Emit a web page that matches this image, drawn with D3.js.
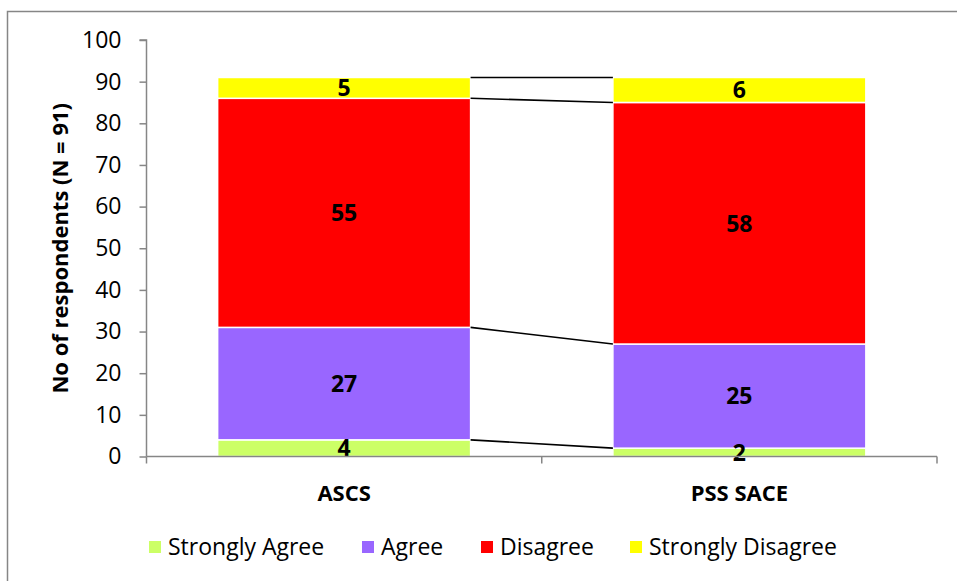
<!DOCTYPE html>
<html>
<head>
<meta charset="utf-8">
<script src="https://cdn.jsdelivr.net/npm/d3@7"></script>
<style>
html,body{margin:0;padding:0;background:#fff;}
svg{display:block;font-family:"Open Sans",sans-serif;}
</style>
</head>
<body>
<svg id="chart" width="957" height="581"></svg>
<script>
const categories = ["ASCS", "PSS SACE"];
const seriesNames = ["Strongly Agree", "Agree", "Disagree", "Strongly Disagree"];
const stronglyAgree = [4, 2];
const agree = [27, 25];
const disagree = [55, 58];
const stronglyDisagree = [5, 6];
const seriesColors = ["#CCFF66", "#9966FF", "#FF0000", "#FFFF00"];
const yTicks = [0, 10, 20, 30, 40, 50, 60, 70, 80, 90, 100];
const yTitle = "No of respondents (N = 91)";

(function () {
const svg = d3.select("#chart");
const pLeft = 146.5, pRight = 937, pTop = 40, pBottom = 456.5;

// outer frame (only left/top visible)
svg.append("rect").attr("x", 7.5).attr("y", 11.5).attr("width", 1100).attr("height", 700)
  .attr("fill", "none").attr("stroke", "#868686").attr("stroke-width", 1.5);

const x = d3.scaleBand().domain(categories).range([pLeft, pRight]).paddingInner(0).paddingOuter(0);
const y = d3.scaleLinear().domain([0, 100]).range([pBottom, pTop]);
const barW = x.bandwidth() * 0.64;

const rows = categories.map((c, i) => ({
  cat: c, "Strongly Agree": stronglyAgree[i], "Agree": agree[i],
  "Disagree": disagree[i], "Strongly Disagree": stronglyDisagree[i]
}));
const stack = d3.stack().keys(seriesNames)(rows);

// bars
stack.forEach((layer, li) => {
  const g = svg.append("g");
  g.selectAll("rect").data(layer).enter().append("rect")
    .attr("x", d => x(d.data.cat) + (x.bandwidth() - barW) / 2)
    .attr("width", barW)
    .attr("y", d => y(d[1]))
    .attr("height", d => y(d[0]) - y(d[1]))
    .attr("fill", seriesColors[li])
    .attr("stroke", "#fff").attr("stroke-width", 1.5);
});

// series lines between bars
stack.forEach(layer => {
  const a = layer[0], b = layer[1];
  svg.append("line")
    .attr("x1", x(a.data.cat) + (x.bandwidth() + barW) / 2)
    .attr("x2", x(b.data.cat) + (x.bandwidth() - barW) / 2)
    .attr("y1", y(a[1])).attr("y2", y(b[1]))
    .attr("stroke", "#000").attr("stroke-width", 1.6);
});

// value labels
stack.forEach(layer => {
  svg.append("g").selectAll("text").data(layer).enter().append("text")
    .attr("x", d => x(d.data.cat) + x.bandwidth() / 2)
    .attr("y", d => y((d[0] + d[1]) / 2))
    .attr("dy", "0.36em")
    .attr("text-anchor", "middle")
    .attr("font-weight", "bold").attr("font-size", 23)
    .attr("fill", "#000")
    .text(d => d[1] - d[0]);
});

// y axis
const yAxis = d3.axisLeft(y).tickValues(yTicks).tickSize(7).tickPadding(18);
const yg = svg.append("g").attr("transform", `translate(${pLeft},0)`).call(yAxis);
yg.select(".domain").attr("stroke", "#868686").attr("stroke-width", 1.5).attr("d", `M-7,${pTop}H0V${pBottom}`);
yg.selectAll(".tick line").attr("stroke", "#868686").attr("stroke-width", 1.5);
yg.selectAll(".tick text").attr("font-size", 23).attr("font-family", "'Open Sans',sans-serif").attr("fill", "#000");

// x axis
const xg = svg.append("g").attr("transform", `translate(0,${pBottom})`);
xg.append("line").attr("x1", pLeft).attr("x2", pRight).attr("y1", 0).attr("y2", 0)
  .attr("stroke", "#868686").attr("stroke-width", 1.5);
const bounds = [pLeft, x(categories[1]), pRight];
xg.selectAll("line.tk").data(bounds).enter().append("line").attr("class", "tk")
  .attr("x1", d => d).attr("x2", d => d).attr("y1", 0).attr("y2", 7)
  .attr("stroke", "#868686").attr("stroke-width", 1.5);
xg.selectAll("text").data(categories).enter().append("text")
  .attr("x", d => x(d) + x.bandwidth() / 2).attr("y", 37)
  .attr("dy", "0.36em").attr("text-anchor", "middle")
  .attr("font-weight", "bold").attr("font-size", 22).text(d => d);

// y title
svg.append("text").attr("transform", `translate(60,${(pTop + pBottom) / 2}) rotate(-90)`)
  .attr("text-anchor", "middle").attr("dy", "0.36em")
  .attr("font-weight", "bold").attr("font-size", 22).text(yTitle);

// legend
const legendX = [149, 362, 481, 630];
const lg = svg.append("g").attr("transform", "translate(0,547)");
seriesNames.forEach((n, i) => {
  lg.append("rect").attr("x", legendX[i]).attr("y", -6).attr("width", 12).attr("height", 12).attr("fill", seriesColors[i]);
  lg.append("text").attr("x", legendX[i] + 19).attr("y", 0).attr("dy", "0.36em")
    .attr("font-size", 23).text(n);
});
})();
</script>
</body>
</html>
